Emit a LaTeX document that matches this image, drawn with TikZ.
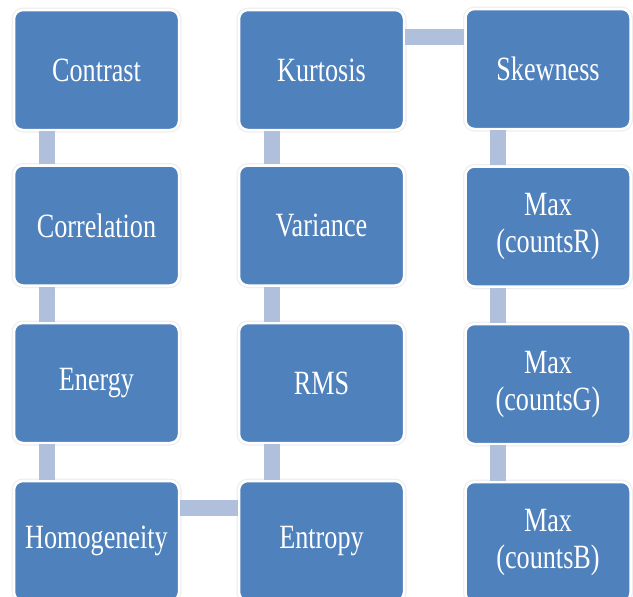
\documentclass[tikz,border=0pt]{standalone}
\usepackage{fontspec}
\newfontfamily\boxfont{Liberation Serif}[FakeStretch=0.77]
\definecolor{boxblue}{RGB}{79,129,189}
\definecolor{linkblue}{RGB}{176,192,220}
\definecolor{rimgray}{RGB}{238,238,238}
\begin{document}
\begin{tikzpicture}[x=1pt,y=-1pt,
  box/.style={draw=white, line width=2.5pt, fill=boxblue, rounded corners=9pt,
    minimum width=165pt, minimum height=120pt, inner sep=0pt, text=white,
    align=center, font=\boxfont\fontsize{34}{37}\selectfont,
    preaction={draw=rimgray, line width=5pt}},
  link/.style={draw=linkblue, line width=16pt}]
\fill[white] (0,0) rectangle (633,597);
\useasboundingbox (0,0) rectangle (633,597);
\begin{scope}
\clip (0,0) rectangle (633,597);
\node[box] (contrast) at (96.5,70) {Contrast};
\node[box] (corr) at (96.5,225.5) {Correlation};
\node[box] (energy) at (96.5,383) {Energy};
\node[box] (homog) at (96.5,541) {Homogeneity};
\node[box] (kurt) at (321.5,70) {Kurtosis};
\node[box] (var) at (321.5,225.5) {Variance};
\node[box] (rms) at (321.5,383) {RMS};
\node[box] (entropy) at (321.5,541) {Entropy};
\node[box] (skew) at (548,69) {Skewness};
\node[box] (maxr) at (548,226.5) {Max\\(countsR)};
\node[box] (maxg) at (548,384) {Max\\(countsG)};
\node[box] (maxb) at (548,542) {Max\\(countsB)};
\draw[link] ([xshift=-50pt]contrast.south) -- ([xshift=-50pt]corr.north);
\draw[link] ([xshift=-50pt]corr.south) -- ([xshift=-50pt]energy.north);
\draw[link] ([xshift=-50pt]energy.south) -- ([xshift=-50pt]homog.north);
\draw[link] ([yshift=33pt]homog.east) -- ([yshift=33pt]entropy.west);
\draw[link] ([xshift=-50pt]entropy.north) -- ([xshift=-50pt]rms.south);
\draw[link] ([xshift=-50pt]rms.north) -- ([xshift=-50pt]var.south);
\draw[link] ([xshift=-50pt]var.north) -- ([xshift=-50pt]kurt.south);
\draw[link] ([yshift=33pt]kurt.east) -- ([yshift=32pt]skew.west);
\draw[link] ([xshift=-50pt]skew.south) -- ([xshift=-50pt]maxr.north);
\draw[link] ([xshift=-50pt]maxr.south) -- ([xshift=-50pt]maxg.north);
\draw[link] ([xshift=-50pt]maxg.south) -- ([xshift=-50pt]maxb.north);
\end{scope}
\end{tikzpicture}
\end{document}
